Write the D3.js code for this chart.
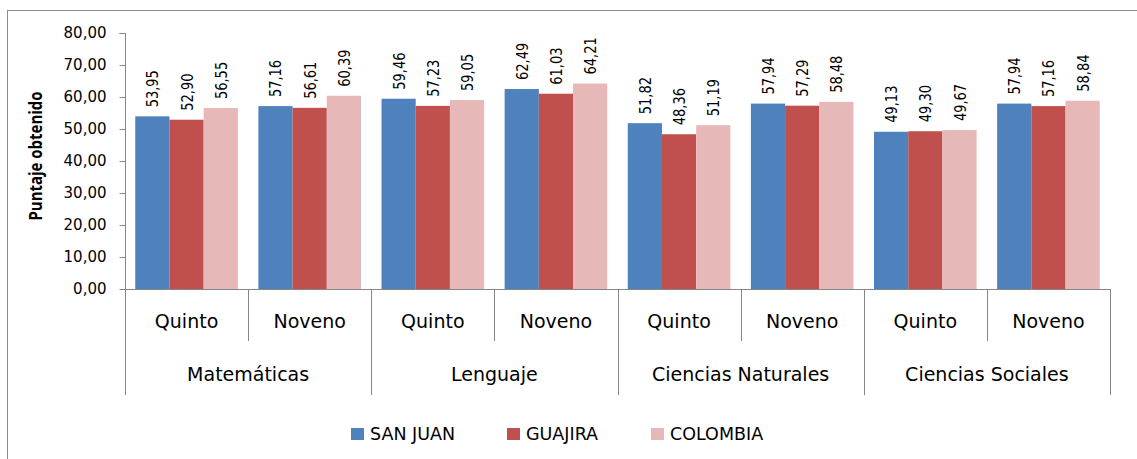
<!DOCTYPE html>
<html>
<head>
<meta charset="utf-8">
<script src="https://cdn.jsdelivr.net/npm/d3@7"></script>
<style>
  body { margin: 0; background: #fff; }
  text { font-family: "DejaVu Sans", sans-serif; fill: #000; }
</style>
</head>
<body>
<div id="chart"></div>
<script>
const areas = ["Matemáticas", "Lenguaje", "Ciencias Naturales", "Ciencias Sociales"];
const grades = ["Quinto", "Noveno"];
const seriesNames = ["SAN JUAN", "GUAJIRA", "COLOMBIA"];
const colors = ["#4F81BD", "#C0504D", "#E6B9B8"];
const sanJuan = [53.95, 57.16, 59.46, 62.49, 51.82, 57.94, 49.13, 57.94];
const guajira = [52.90, 56.61, 57.23, 61.03, 48.36, 57.29, 49.30, 57.16];
const colombia = [56.55, 60.39, 59.05, 64.21, 51.19, 58.48, 49.67, 58.84];
const yTicks = [0, 10, 20, 30, 40, 50, 60, 70, 80];

const w = 1137, h = 459;
const plotLeft = 125, plotRight = 1110, plotTop = 33, zeroY = 289;

const groups = [];
areas.forEach((a, ai) => grades.forEach((g, gi) => groups.push({ area: a, grade: g, idx: ai * 2 + gi })));
const series = [sanJuan, guajira, colombia];
const fmt = v => d3.format(".2f")(v).replace(".", ",");

const svg = d3.select("#chart").append("svg").attr("width", w).attr("height", h);

// outer chart border (runs past the right and bottom edges)
svg.append("rect")
  .attr("x", 7.5).attr("y", 10.5)
  .attr("width", w + 20).attr("height", h + 20)
  .attr("fill", "none").attr("stroke", "#8c8c8c").attr("stroke-width", 1);

const x0 = d3.scaleBand().domain(groups.map(d => d.idx)).range([plotLeft, plotRight]);
const x1 = d3.scaleBand().domain(seriesNames).range([0, x0.bandwidth()]).paddingOuter(0.3).paddingInner(0);
const y = d3.scaleLinear().domain([0, 80]).range([zeroY, plotTop]);

// y axis
const yAxis = svg.append("g").attr("transform", `translate(${plotLeft + 0.5},0)`)
  .call(d3.axisLeft(y).tickValues(yTicks).tickSize(6).tickPadding(13).tickFormat(fmt));
yAxis.selectAll("path, line").attr("stroke", "#868686");
yAxis.selectAll("text").attr("font-size", 15).style("font-family", "'DejaVu Sans', sans-serif");
yAxis.select(".domain").attr("d", `M-6,${plotTop + 0.5}H0V${zeroY + 0.5}`);

// the source text is stretched sideways, so rotated text gets a y-scale
svg.append("text")
  .attr("transform", `translate(42,156) rotate(-90) scale(1,1.2)`)
  .attr("text-anchor", "middle")
  .attr("font-size", 15).attr("font-weight", "bold")
  .style("font-family", "'Open Sans', sans-serif")
  .text("Puntaje obtenido");

// bars and value labels
const g = svg.append("g");
groups.forEach(gr => {
  seriesNames.forEach((s, si) => {
    const v = series[si][gr.idx];
    const bx = x0(gr.idx) + x1(s);
    g.append("rect")
      .attr("x", bx).attr("y", y(v))
      .attr("width", x1.bandwidth()).attr("height", zeroY - y(v))
      .attr("fill", colors[si]);
    g.append("text")
      .attr("transform", `translate(${bx + x1.bandwidth() / 2 + 6},${y(v) - 9}) rotate(-90) scale(1,1.25)`)
      .attr("font-size", 13)
      .text(fmt(v));
  });
});

// category axis
const axisColor = "#868686";
svg.append("line").attr("x1", plotLeft).attr("x2", plotRight).attr("y1", zeroY + 0.5).attr("y2", zeroY + 0.5)
  .attr("stroke", axisColor);
groups.forEach(gr => {
  const xs = Math.round(x0(gr.idx)) + 0.5;
  const long = gr.idx % 2 === 0;
  svg.append("line").attr("x1", xs).attr("x2", xs).attr("y1", zeroY).attr("y2", long ? 395 : 341)
    .attr("stroke", axisColor);
  svg.append("text")
    .attr("x", x0(gr.idx) + x0.bandwidth() / 2).attr("y", 328)
    .attr("text-anchor", "middle").attr("font-size", 19)
    .text(gr.grade);
});
svg.append("line").attr("x1", plotRight + 0.5).attr("x2", plotRight + 0.5).attr("y1", zeroY).attr("y2", 395)
  .attr("stroke", axisColor);
areas.forEach((a, ai) => {
  svg.append("text")
    .attr("x", x0(ai * 2) + x0.bandwidth()).attr("y", 381)
    .attr("text-anchor", "middle").attr("font-size", 19)
    .text(a);
});

// legend
const legendX = [351, 507, 651];
seriesNames.forEach((s, si) => {
  svg.append("rect").attr("x", legendX[si]).attr("y", 428).attr("width", 13).attr("height", 12)
    .attr("fill", colors[si]);
  svg.append("text").attr("x", legendX[si] + 19).attr("y", 440).attr("font-size", 17.5).text(s);
});
</script>
</body>
</html>
